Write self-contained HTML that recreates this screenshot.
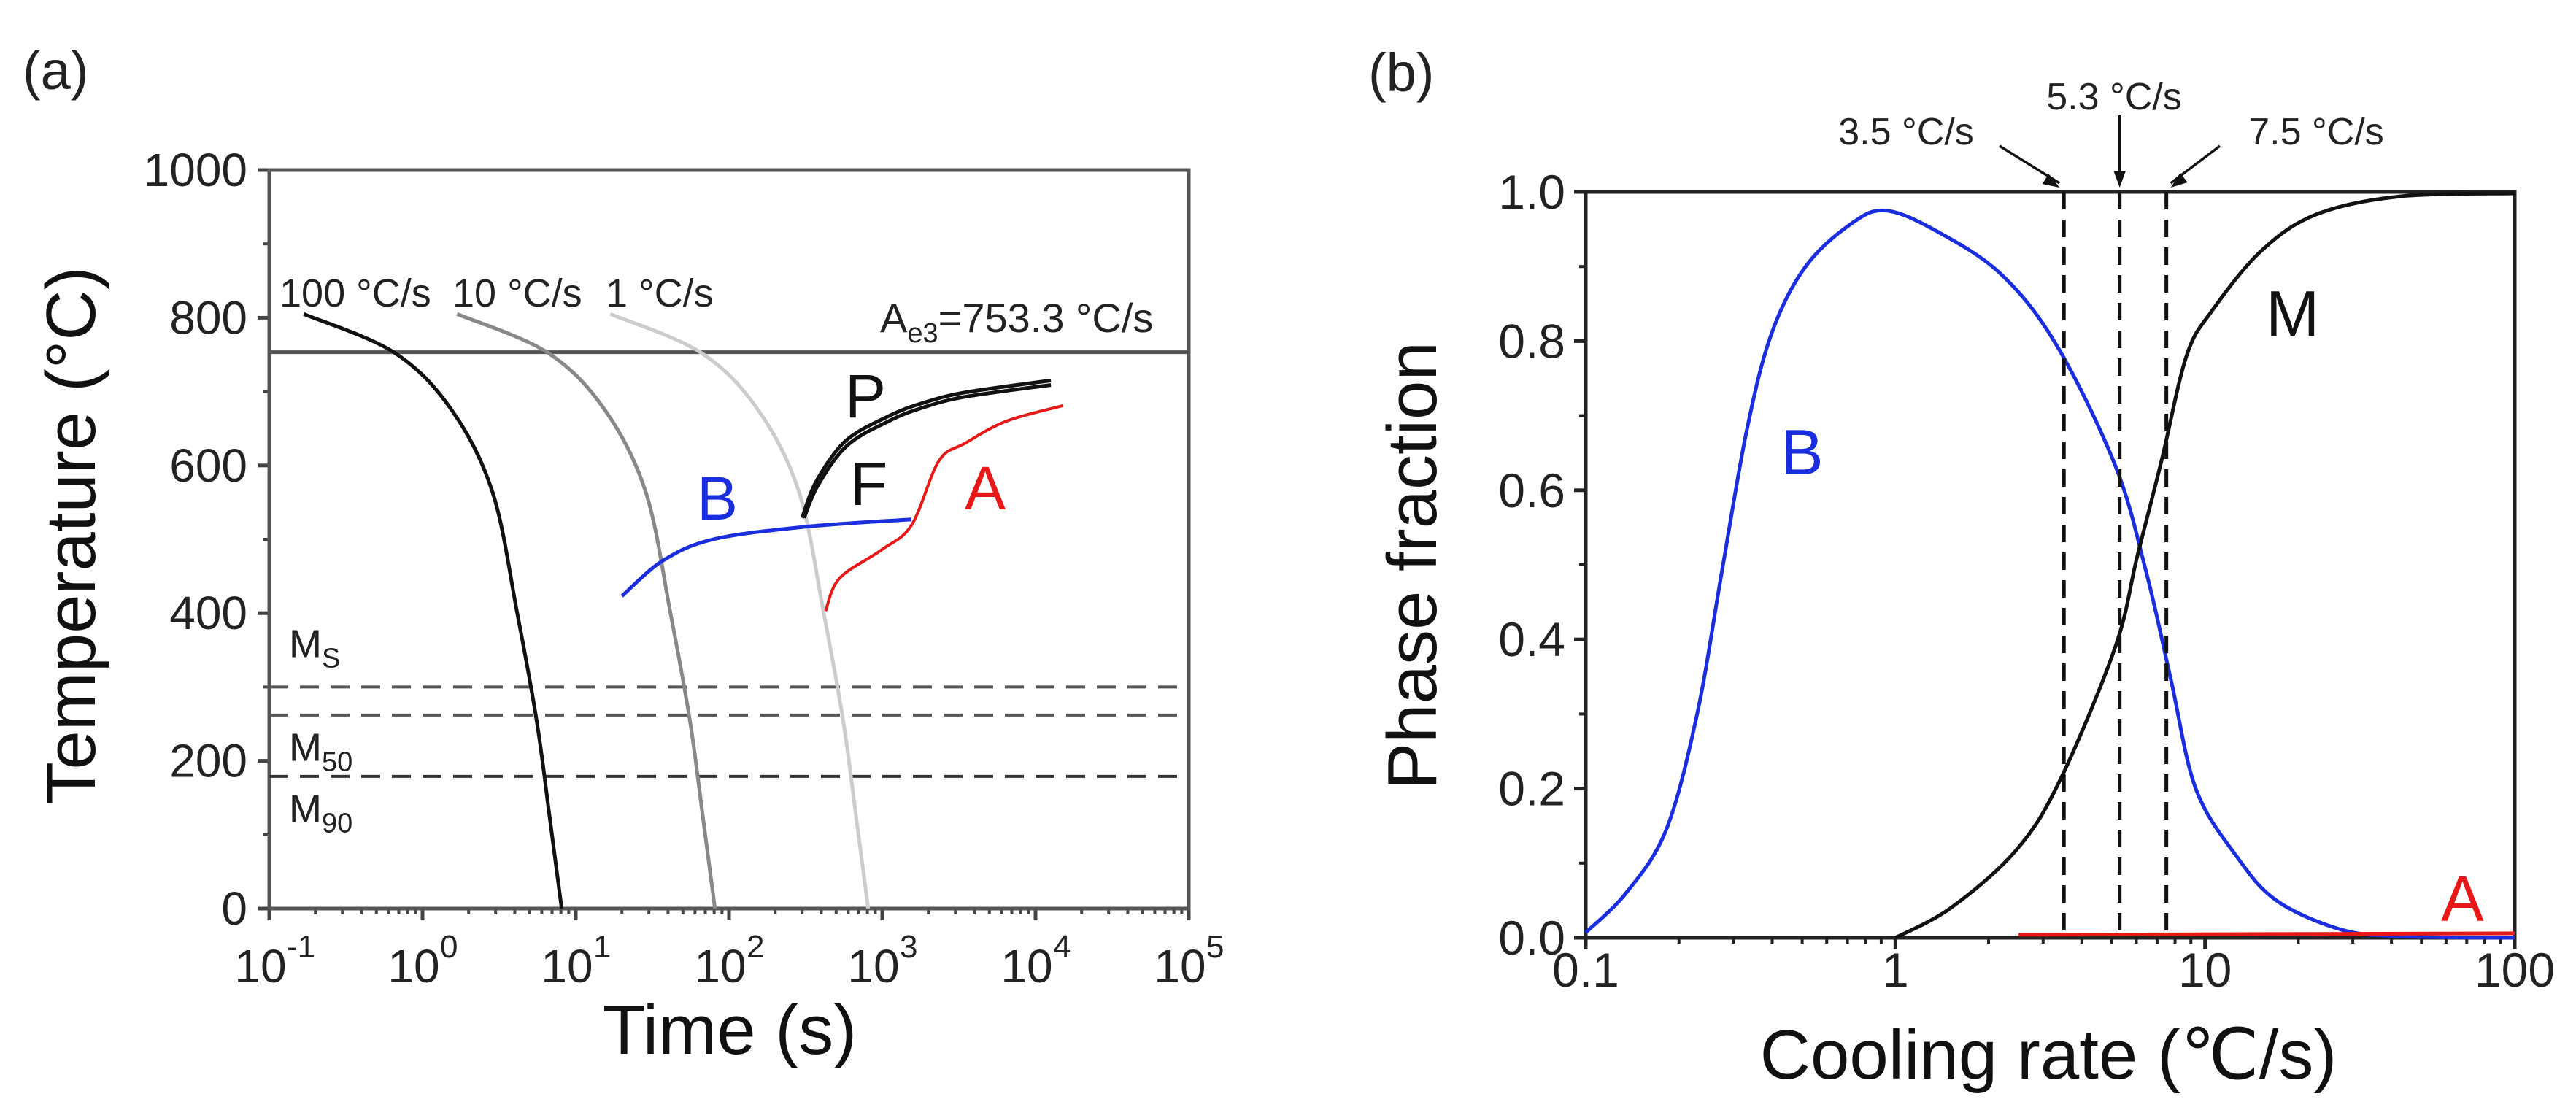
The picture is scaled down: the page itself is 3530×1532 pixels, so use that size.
<!DOCTYPE html>
<html><head><meta charset="utf-8"><style>
html,body{margin:0;padding:0;background:#fff;}
svg{display:block;font-family:"Liberation Sans",Arial,sans-serif;}
</style></head><body>
<svg id="fig" width="3530" height="1532" viewBox="0 0 3530 1532" xmlns="http://www.w3.org/2000/svg">
<g id="pa"></g>
<g id="pb"></g>
</svg>
<script>
// ---------- Panel (a) data ----------
const aCurve100T = [0.168,0.653,1.55,2.87,4.15,5.58,6.81,8.09];
const aCurve100V = [805,753,675,563,400,252,118,0];
const aCurve10T = [1.68,6.53,15.5,28.7,41.5,55.8,68.1,80.9];
const aCurve10V = [805,753,675,563,400,252,118,0];
const aCurve1T = [16.8,65.3,155,287,415,558,681,809];
const aCurve1V = [805,753,675,563,400,252,118,0];
const aBainiteT = [20,37,79,316,1550];
const aBainiteV = [423,471,500,517,527];
const aAustT = [427,525,977,1550,2340,3470,6460,15100];
const aAustV = [403,447,485,519,606,630,660,681];
const aPearliteT = [309,380,590,1100,1820,3470,12600];
const aPearliteV = [529,573,627,660,678,693,709];
const aPearlite2T = [300,370,575,1080,1800,3500,12600];
const aPearlite2V = [529,578,633,666,684,699,715];
const aAe3 = 753.3;
const aMartLines = [300,262,179];
const aYTicks = [0,200,400,600,800,1000];
const aXExp = [-1,0,1,2,3,4,5];
// ---------- Panel (b) data ----------
const bBRate = [0.1,0.135,0.182,0.229,0.275,0.331,0.398,0.513,0.724,0.933,1.35,2.19,3.31,5.13,6.46,7.76,9.33,12.6,17,27.5,42.7,100];
const bBVal = [0.007,0.06,0.145,0.30,0.49,0.68,0.81,0.90,0.958,0.975,0.948,0.89,0.795,0.633,0.49,0.346,0.20,0.11,0.05,0.011,0.002,0.0];
const bMRate = [1,1.51,2.45,3.39,5.13,6.03,7.24,8.71,10.5,15.1,22.9,42.7,100];
const bMVal = [0,0.04,0.117,0.21,0.39,0.51,0.64,0.78,0.84,0.92,0.97,0.994,0.998];
const bARate = [2.5,100];
const bAVal = [0.004,0.006];
const bCritRates = [3.5,5.3,7.5];
const bCritLabels = ["3.5 \u00B0C/s","5.3 \u00B0C/s","7.5 \u00B0C/s"];
const bYTicks = [0,0.2,0.4,0.6,0.8,1.0];
const bXTicks = [0.1,1,10,100];

const NS="http://www.w3.org/2000/svg";
function mk(parent,tag,attrs,text){const e=document.createElementNS(NS,tag);for(const k in attrs)e.setAttribute(k,attrs[k]);if(text!==undefined)e.textContent=text;parent.appendChild(e);return e;}
function smooth(pts){let d="M"+pts[0][0].toFixed(1)+","+pts[0][1].toFixed(1);
 for(let i=0;i<pts.length-1;i++){const p0=pts[Math.max(0,i-1)],p1=pts[i],p2=pts[i+1],p3=pts[Math.min(pts.length-1,i+2)];
  const c1=[p1[0]+(p2[0]-p0[0])/6,p1[1]+(p2[1]-p0[1])/6],c2=[p2[0]-(p3[0]-p1[0])/6,p2[1]-(p3[1]-p1[1])/6];
  d+=" C"+c1[0].toFixed(1)+","+c1[1].toFixed(1)+" "+c2[0].toFixed(1)+","+c2[1].toFixed(1)+" "+p2[0].toFixed(1)+","+p2[1].toFixed(1);}
 return d;}

// ---------- Panel (a) ----------
const pa=document.getElementById('pa');
const AX0=369,AX1=1629,AY0=1245,AY1=233;
const xA=t=>AX0+(Math.log10(t)+1)*(AX1-AX0)/6;
const yA=v=>AY0-v*(AY0-AY1)/1000;
let e;
e=mk(pa,'text',{x:31,y:122,'font-size':74,fill:'#222'},'(a)');

aYTicks.forEach(v=>{e=mk(pa,'line',{x1:AX0-16,x2:AX0,y1:yA(v),y2:yA(v),stroke:'#444','stroke-width':5});
 
 e=mk(pa,'text',{x:AX0-30,y:yA(v)+22,'font-size':64,'text-anchor':'end',fill:'#222'},String(v));
 });
for(let v=100;v<1000;v+=200){e=mk(pa,'line',{x1:AX0-9,x2:AX0,y1:yA(v),y2:yA(v),stroke:'#444','stroke-width':4});
 }
aXExp.forEach(p=>{const x=xA(Math.pow(10,p));
 e=mk(pa,'line',{x1:x,x2:x,y1:AY0,y2:AY0+16,stroke:'#444','stroke-width':5});
 
 e=mk(pa,'text',{x:x-12,y:1346,'font-size':64,'text-anchor':'middle',fill:'#222'},'10');
 
 e=mk(pa,'text',{x:x+24,y:1312,'font-size':44,'text-anchor':'start',fill:'#222'},String(p));
 
 if(p<5){for(let m=2;m<10;m++){const xm=xA(m*Math.pow(10,p));
  e=mk(pa,'line',{x1:xm,x2:xm,y1:AY0,y2:AY0+8,stroke:'#444','stroke-width':4});
  }}});
e=mk(pa,'rect',{x:AX0,y:AY1,width:AX1-AX0,height:AY0-AY1,fill:'none',stroke:'#555','stroke-width':5});

e=mk(pa,'line',{x1:AX0,x2:AX1,y1:yA(aAe3),y2:yA(aAe3),stroke:'#555','stroke-width':5});

e=mk(pa,'text',{x:1206,y:455,'font-size':56,fill:'#222'});e.innerHTML='A<tspan font-size="38" dy="14">e3</tspan><tspan dy="-14">=753.3 \u00B0C/s</tspan>';

aMartLines.forEach((v,i)=>{e=mk(pa,'line',{x1:AX0,x2:AX1,y1:yA(v),y2:yA(v),stroke:i==2?'#333':'#555','stroke-width':4,'stroke-dasharray':'26,16'});
 });
[['S',360],['50',220],['90',137]].forEach(([s,v])=>{e=mk(pa,'text',{x:396,y:yA(v)+20,'font-size':54,fill:'#222'});
 e.innerHTML='M<tspan font-size="38" dy="14">'+s+'</tspan>';
 });
function curveA(T,V,col,w,name){const pts=T.map((t,i)=>[xA(t),yA(V[i])]);
 const el=mk(pa,'path',{d:smooth(pts),fill:'none',stroke:col,'stroke-width':w,'stroke-linejoin':'round'});
 }
curveA(aCurve100T,aCurve100V,'#111',5,'cooling-curve-100');
curveA(aCurve10T,aCurve10V,'#888',5,'cooling-curve-10');
curveA(aCurve1T,aCurve1V,'#ccc',5,'cooling-curve-1');
curveA(aBainiteT,aBainiteV,'#1a2ee0',5,'bainite-curve');
curveA(aAustT,aAustV,'#e81818',4,'austenite-curve');
curveA(aPearliteT,aPearliteV,'#111',5,'pearlite-curve');
curveA(aPearlite2T,aPearlite2V,'#111',5,'ferrite-curve');
[['100 \u00B0C/s',383,'cooling-label-100'],['10 \u00B0C/s',620,'cooling-label-10'],['1 \u00B0C/s',830,'cooling-label-1']].forEach(([s,x,n])=>{
 e=mk(pa,'text',{x:x,y:420,'font-size':54,fill:'#222'},s);});
[['P',1158,572,'#111'],['F',1165,692,'#111'],['B',955,712,'#1a2ee0'],['A',1322,698,'#e81818']].forEach(([s,x,y,c])=>{
 e=mk(pa,'text',{x:x,y:y,'font-size':84,fill:c},s);});
e=mk(pa,'text',{x:1000,y:1444,'font-size':96,'text-anchor':'middle',fill:'#111'},'Time (s)');

e=mk(pa,'text',{x:0,y:0,'font-size':96,'text-anchor':'middle',fill:'#111',transform:'translate(130,734) rotate(-90)'},'Temperature (\u00B0C)');


// ---------- Panel (b) ----------
const pb=document.getElementById('pb');
const BX0=2173,BX1=3446,BY0=1285,BY1=263;
const xB=r=>BX0+(Math.log10(r)+1)*(BX1-BX0)/3;
const yB=v=>BY0-v*(BY0-BY1);
e=mk(pb,'text',{x:1875,y:125,'font-size':74,fill:'#222'},'(b)');

bYTicks.forEach(v=>{e=mk(pb,'line',{x1:BX0-16,x2:BX0,y1:yB(v),y2:yB(v),stroke:'#222','stroke-width':5});
 
 e=mk(pb,'text',{x:BX0-28,y:yB(v)+23,'font-size':66,'text-anchor':'end',fill:'#222'},v.toFixed(1));
 });
for(let v=0.1;v<1;v+=0.2){e=mk(pb,'line',{x1:BX0-9,x2:BX0,y1:yB(v),y2:yB(v),stroke:'#222','stroke-width':4});
 }
bXTicks.forEach((r,i)=>{const x=xB(r);
 e=mk(pb,'line',{x1:x,x2:x,y1:BY0,y2:BY0+16,stroke:'#222','stroke-width':5});
 
 e=mk(pb,'text',{x:x,y:1352,'font-size':66,'text-anchor':'middle',fill:'#222'},String(r));
 
 if(i<3){for(let m=2;m<10;m++){const xm=xB(m*r);
  e=mk(pb,'line',{x1:xm,x2:xm,y1:BY0,y2:BY0+8,stroke:'#222','stroke-width':4});
  }}});
e=mk(pb,'rect',{x:BX0,y:BY1,width:BX1-BX0,height:BY0-BY1,fill:'none',stroke:'#222','stroke-width':5});

function curveB(R,V,col,w,name){const pts=R.map((r,i)=>[xB(r),yB(V[i])]);
 const el=mk(pb,'path',{d:smooth(pts),fill:'none',stroke:col,'stroke-width':w,'stroke-linejoin':'round'});
 }
curveB(bBRate,bBVal,'#1a2ee0',5,'bainite-fraction-curve');
curveB(bMRate,bMVal,'#111',5,'martensite-fraction-curve');
curveB(bARate,bAVal,'#e81818',5,'austenite-fraction-curve');
const labX=[2612,2897,3174],labY=[198,150,198];
bCritRates.forEach((r,i)=>{const x=xB(r);
 e=mk(pb,'line',{x1:x,x2:x,y1:BY1,y2:BY0,stroke:'#111','stroke-width':5,'stroke-dasharray':'24,14'});
 
 e=mk(pb,'text',{x:labX[i],y:labY[i],'font-size':52,'text-anchor':'middle',fill:'#222'},bCritLabels[i]);
 
 const sx=[2740,x,3042][i],sy=[200,158,200][i];
 const tx=x+(i==0?-6:i==2?6:0),ty=BY1-6;
 e=mk(pb,'line',{x1:sx,y1:sy,x2:tx,y2:BY1-12,stroke:'#111','stroke-width':3.5});
 
 const ang=Math.atan2(BY1-12-sy,tx-sx);
 const p1=[tx-24*Math.cos(ang-0.35),ty-24*Math.sin(ang-0.35)],p2=[tx-24*Math.cos(ang+0.35),ty-24*Math.sin(ang+0.35)];
 e=mk(pb,'polygon',{points:tx+','+ty+' '+p1.join(',')+' '+p2.join(','),fill:'#111'});
 });
e=mk(pb,'text',{x:2440,y:650,'font-size':88,fill:'#1a2ee0'},'B');
e=mk(pb,'text',{x:3105,y:460,'font-size':88,fill:'#111'},'M');
e=mk(pb,'text',{x:3345,y:1262,'font-size':88,fill:'#e81818'},'A');
e=mk(pb,'text',{x:2807,y:1478,'font-size':96,'text-anchor':'middle',fill:'#111'},'Cooling rate (\u2103/s)');

e=mk(pb,'text',{x:0,y:0,'font-size':96,'text-anchor':'middle',fill:'#111',transform:'translate(1968,775) rotate(-90)'},'Phase fraction');

</script>
</body></html>
